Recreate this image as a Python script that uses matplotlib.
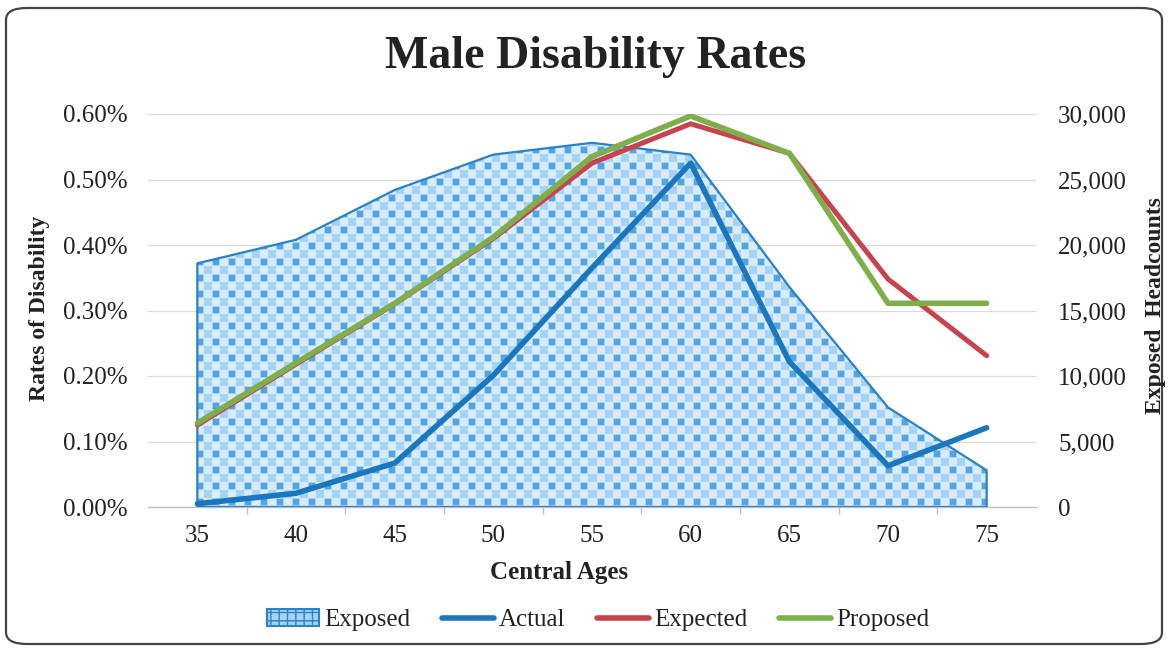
import numpy as np
import matplotlib
matplotlib.use("Agg")
import matplotlib.pyplot as plt
from matplotlib.patches import FancyBboxPatch, Patch
from matplotlib.lines import Line2D
from matplotlib.ticker import FuncFormatter, FixedLocator

# ---------------- data ----------------
ages = [35, 40, 45, 50, 55, 60, 65, 70, 75]
exposed = [18600, 20400, 24200, 26900, 27800, 26900, 16800, 7600, 2800]
actual = [0.005, 0.021, 0.067, 0.201, 0.365, 0.525, 0.222, 0.063, 0.121]     # percent
expected = [0.125, 0.218, 0.310, 0.410, 0.525, 0.585, 0.540, 0.348, 0.231]  # percent
proposed = [0.128, 0.220, 0.311, 0.412, 0.535, 0.597, 0.540, 0.311, 0.311]  # percent

title = "Male Disability Rates"
xlabel = "Central Ages"
ylabel_left = "Rates of Disability"
ylabel_right = "Exposed  Headcounts"
left_ticks = [0.0, 0.1, 0.2, 0.3, 0.4, 0.5, 0.6]
right_ticks = [0, 5000, 10000, 15000, 20000, 25000, 30000]

# ---------------- style ----------------
SERIF = ["Liberation Serif", "DejaVu Serif"]
plt.rcParams["font.family"] = SERIF
plt.rcParams["hatch.color"] = "#d8ecfb"
C_ACT = "#1b77bd"
C_EXP = "#c9424e"
C_PRO = "#7eaf4b"
C_EDGE = "#2a82c8"
TXT = "#222222"
TICK_FS = 18

fig = plt.figure(figsize=(11.68, 6.5), dpi=100)
ax2 = fig.add_axes([148 / 1168, 1 - 507 / 650, (1036 - 148) / 1168, (507 - 114) / 650])
ax = ax2.twinx()
ax.yaxis.tick_left()
ax.yaxis.set_label_position("left")
ax2.yaxis.tick_right()
ax2.yaxis.set_label_position("right")

# ---- exposed area on right axis ----
poly = ax2.fill_between(ages, 0, exposed, facecolor="none", edgecolor=C_EDGE,
                        linewidth=1.6, zorder=3)
H, W = 393, 888
ii, jj = np.mgrid[0:H, 0:W]
ci, cj = ii // 8, jj // 8
tex = np.empty((H, W, 3))
light = np.array([0xd8, 0xec, 0xfb]) / 255
mid = np.array([0xa6, 0xd2, 0xf4]) / 255
dark = np.array([0x52, 0xa5, 0xe4]) / 255
tex[:] = light
tex[((ci + cj) % 2 == 0)] = mid
m_dark = (ci % 2 == 0) & (cj % 2 == 0) & ((ii % 8) >= 1) & ((ii % 8) <= 6) & ((jj % 8) >= 1) & ((jj % 8) <= 6)
tex[m_dark] = dark
img = ax2.imshow(tex, extent=[0, 1, 0, 1], transform=ax2.transAxes,
                 aspect="auto", interpolation="nearest", zorder=2)
img.set_clip_path(poly.get_paths()[0], ax2.transData)

ax2.set_ylim(0, 30000)
ax2.yaxis.set_major_locator(FixedLocator(right_ticks))
ax2.yaxis.set_major_formatter(FuncFormatter(lambda v, p: f"{int(v):,}"))

# ---- lines on left axis ----
ax.plot(ages, actual, color=C_ACT, lw=4.0, solid_capstyle="round", zorder=5)
ax.plot(ages, expected, color=C_EXP, lw=3.6, solid_capstyle="round", zorder=6)
ax.plot(ages, proposed, color=C_PRO, lw=4.0, solid_capstyle="round", zorder=7)
ax.set_ylim(0, 0.6)
ax.yaxis.set_major_locator(FixedLocator(left_ticks))
ax.yaxis.set_major_formatter(FuncFormatter(lambda v, p: f"{v:.2f}%"))

ax2.set_xlim(32.5, 77.5)
ax.set_xlim(32.5, 77.5)
for t in left_ticks[1:]:
    ax2.axhline(t / 0.6 * 30000, color="#d9d9d9", lw=0.9, zorder=1)

ax2.set_xticks(ages)
ax2.set_xticks([37.5 + 5 * k for k in range(8)], minor=True)
ax2.tick_params(axis="x", which="major", length=0, pad=13, labelsize=TICK_FS, labelcolor=TXT)
ax2.tick_params(axis="x", which="minor", length=5, color="#bfbfbf", width=1)
ax2.tick_params(axis="y", length=0, pad=16, labelsize=TICK_FS, labelcolor=TXT)
ax.tick_params(axis="y", length=0, pad=15, labelsize=TICK_FS, labelcolor=TXT)

for a in (ax, ax2):
    for s in ("top", "left", "right"):
        a.spines[s].set_visible(False)
    a.patch.set_visible(False)
ax.spines["bottom"].set_visible(False)
ax2.spines["bottom"].set_color("#bfbfbf")
ax2.spines["bottom"].set_linewidth(1.0)
ax2.spines["bottom"].set_zorder(1)

# ---- texts ----
fig.text(596 / 1168, 1 - 57 / 650, title, ha="center", va="center",
         fontsize=33, fontweight="bold", color=TXT)
fig.text(559 / 1168, 1 - 573 / 650, xlabel, ha="center", va="center",
         fontsize=18, fontweight="bold", color=TXT)
fig.text(40 / 1168, 1 - 308 / 650, ylabel_left, ha="center", va="center",
         rotation=90, fontsize=17, fontweight="bold", color=TXT)
fig.text(1155 / 1168, 1 - 306 / 650, ylabel_right, ha="center", va="center",
         rotation=90, fontsize=17, fontweight="bold", color=TXT)

# ---- legend ----
handles = [
    Patch(facecolor="#a6d2f4", edgecolor=C_EDGE, linewidth=1.5, hatch="++"),
    Line2D([0], [0], color=C_ACT, lw=4.0, solid_capstyle="round"),
    Line2D([0], [0], color=C_EXP, lw=4.0, solid_capstyle="round"),
    Line2D([0], [0], color=C_PRO, lw=4.0, solid_capstyle="round"),
]
leg = fig.legend(handles, ["Exposed", "Actual", "Expected", "Proposed"],
                 loc="center", bbox_to_anchor=(598 / 1168, 1 - 620 / 650),
                 ncol=4, frameon=False, fontsize=18, handlelength=2.1,
                 handletextpad=0.2, columnspacing=1.25)
for t in leg.get_texts():
    t.set_color(TXT)

# ---- rounded border ----
border = FancyBboxPatch((6 / 1168, 6 / 650), 1156 / 1168, 636 / 650,
                        boxstyle="round,pad=0,rounding_size=0.018",
                        transform=fig.transFigure, fill=False,
                        edgecolor="#444444", linewidth=1.6)
fig.patches.append(border)

fig.savefig("out.png", dpi=100)
